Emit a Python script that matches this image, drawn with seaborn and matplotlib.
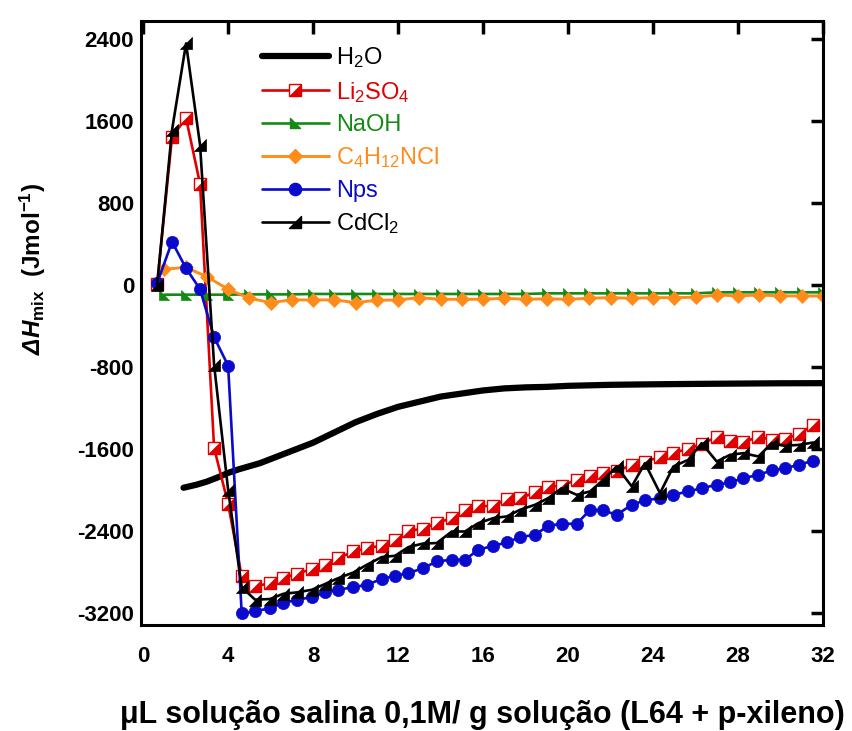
import numpy as np
import pandas as pd
import matplotlib
matplotlib.use("Agg")
import matplotlib.pyplot as plt
import seaborn as sns
from matplotlib.path import Path
from matplotlib.lines import Line2D

# ---------------- data ----------------
x_h2o = [1.9, 2.5, 3.0, 3.5, 4.0, 4.5, 5.0, 5.5, 6.0, 6.5, 7.0, 7.5, 8.0, 8.5, 9.0, 9.5, 10,
         11, 12, 13, 14, 15, 16, 17, 18, 19, 20, 22, 24, 26, 28, 30, 32]
h2o = [-1980, -1951, -1920, -1880, -1835, -1800, -1770, -1740, -1700, -1660, -1620, -1580,
       -1540, -1490, -1440, -1390, -1340, -1260, -1190, -1140, -1090, -1060, -1030, -1010,
       -1000, -995, -985, -975, -970, -966, -963, -960, -959]

x_inj = [0.66, 1.36, 2.02, 2.68, 3.34, 4.0, 4.64, 5.27, 5.98, 6.6, 7.23, 7.94, 8.56, 9.19,
         9.9, 10.53, 11.23, 11.86, 12.49, 13.19, 13.82, 14.53, 15.15, 15.78, 16.49, 17.12,
         17.74, 18.45, 19.07, 19.7, 20.41, 21.04, 21.66, 22.29, 23.0, 23.62, 24.33, 24.96,
         25.66, 26.29, 27.0, 27.62, 28.25, 28.96, 29.59, 30.21, 30.88, 31.55]
li2so4 = [10, 1444, 1630, 985, -1590, -2137, -2846, -2943, -2911, -2862, -2820, -2774,
          -2732, -2667, -2602, -2569, -2546, -2488, -2400, -2380, -2325, -2276, -2202,
          -2163, -2156, -2091, -2081, -2026, -1968, -1961, -1902, -1863, -1837, -1821,
          -1756, -1724, -1681, -1636, -1603, -1551, -1486, -1528, -1538, -1480, -1512,
          -1506, -1454, -1366]
cdcl2 = [0, 1512, 2358, 1366, -780, -2000, -2950, -3073, -3066, -3015, -3002, -2976,
         -2920, -2862, -2807, -2732, -2657, -2644, -2559, -2524, -2520, -2407, -2407,
         -2325, -2276, -2260, -2195, -2146, -2081, -1984, -2049, -2016, -1902, -1772,
         -1967, -1740, -2033, -1772, -1707, -1545, -1724, -1659, -1642, -1675, -1545,
         -1571, -1561, -1538]
nps = [16, 422, 163, -42, -510, -787, -3205, -3187, -3154, -3106, -3073, -3049, -3002,
       -2976, -2950, -2927, -2871, -2839, -2813, -2764, -2699, -2683, -2683, -2585,
       -2546, -2514, -2462, -2439, -2351, -2332, -2332, -2195, -2202, -2244, -2146,
       -2104, -2081, -2049, -2016, -1984, -1951, -1928, -1886, -1854, -1811, -1788,
       -1756, -1714]

x_int = list(range(1, 33))
naoh = [-95, -95, -95, -95, -92, -92, -92, -88, -88, -88, -88, -88, -88, -88, -88, -88,
        -88, -88, -82, -82, -82, -82, -82, -82, -82, -82, -72, -72, -72, -72, -72, -72]
c4h12ncl = [153, 172, 81, -42, -130, -172, -146, -146, -146, -172, -150, -146, -124, -140,
            -140, -140, -130, -140, -135, -140, -130, -124, -130, -124, -124, -120, -98,
            -107, -98, -107, -107, -107]

labels = ["H$_2$O", "Li$_2$SO$_4$", "NaOH", "C$_4$H$_{12}$NCl", "Nps", "CdCl$_2$"]
x_ticks = [0, 4, 8, 12, 16, 20, 24, 28, 32]
y_ticks = [2400, 1600, 800, 0, -800, -1600, -2400, -3200]

# ---------------- style ----------------
sns.set_style("white")
plt.rcParams["font.family"] = ["Liberation Sans", "DejaVu Sans"]
plt.rcParams["text.color"] = "black"
plt.rcParams["axes.labelcolor"] = "black"
plt.rcParams["xtick.color"] = "black"
plt.rcParams["ytick.color"] = "black"
plt.rcParams["mathtext.fontset"] = "custom"
plt.rcParams["mathtext.it"] = "Liberation Sans:bold:italic"
plt.rcParams["mathtext.rm"] = "Liberation Sans:bold:italic"
plt.rcParams["mathtext.bf"] = "Liberation Sans:bold"
plt.rcParams["mathtext.default"] = "regular"

RED = "#E00000"
GREEN = "#148A14"
ORANGE = "#FF8C1A"
BLUE = "#0A0ACC"
BLACK = "black"

tri_lr = Path([(-1, -1), (1, -1), (1, 1), (-1, -1)],
              [Path.MOVETO, Path.LINETO, Path.LINETO, Path.CLOSEPOLY])
tri_ll = Path([(-1, 1), (-1, -1), (1, -1), (-1, 1)],
              [Path.MOVETO, Path.LINETO, Path.LINETO, Path.CLOSEPOLY])

fig = plt.figure(figsize=(8.53, 7.31), dpi=100)
ax = fig.add_axes([0.1653, 0.145, 0.7995, 0.826])

common = dict(sort=False, estimator=None, ax=ax, legend=False)

sns.lineplot(x=x_h2o, y=h2o, color=BLACK, lw=4.5, **common)
sns.lineplot(x=x_inj, y=li2so4, color=RED, lw=1.9, marker="s", ms=8.8,
             mfc="white", mec=RED, mew=1.0, **common)
sns.lineplot(x=x_inj, y=li2so4, color=RED, lw=0, linestyle="none", marker=tri_lr,
             ms=8.8, mfc=RED, mec=RED, mew=0.5, **common)
sns.lineplot(x=x_int, y=naoh, color=GREEN, lw=1.9, marker=tri_ll, ms=7.5,
             mfc=GREEN, mec=GREEN, mew=0.5, **common)
sns.lineplot(x=x_int, y=c4h12ncl, color=ORANGE, lw=2.1, marker="D", ms=6.8,
             mfc=ORANGE, mec=ORANGE, mew=0.5, **common)
sns.lineplot(x=x_inj, y=nps, color=BLUE, lw=1.9, marker="o", ms=8.8,
             mfc=BLUE, mec=BLUE, mew=0.5, **common)
sns.lineplot(x=x_inj, y=cdcl2, color=BLACK, lw=1.9, marker=tri_lr, ms=8.8,
             mfc=BLACK, mec=BLACK, mew=0.5, **common)

ax.set_xlim(-0.1, 32.0)
ax.set_ylim(-3320, 2575)
ax.set_xticks(x_ticks)
ax.set_yticks(y_ticks)
ax.set_xticklabels([str(t) for t in x_ticks], fontsize=16, fontweight="bold")
ax.set_yticklabels([str(t) for t in y_ticks], fontsize=16, fontweight="bold")
ax.tick_params(direction="in", top=True, right=True, length=9, width=2.5,
               colors="black")
ax.tick_params(axis="x", pad=15)
ax.tick_params(axis="y", pad=5)
for s in ax.spines.values():
    s.set_color("black")
    s.set_linewidth(2.2)

ax.set_xlabel("\u03bcL solução salina 0,1M/ g solução (L64 + p-xileno)",
              fontsize=22, fontweight="bold", labelpad=24, color="black")
ax.set_ylabel(r"$\mathrm{\Delta H}_{mix}$  (Jmol$^{-1}$)", fontsize=17.5,
              fontweight="bold", color="black")
ax.yaxis.set_label_coords(-0.137, 0.59)

# legend
h_h2o = Line2D([], [], color=BLACK, lw=4.5)
h_li = (Line2D([], [], color=RED, lw=1.9, marker="s", ms=8.8, mfc="white", mec=RED, mew=1.0),
        Line2D([], [], color=RED, lw=0, marker=tri_lr, ms=8.8, mfc=RED, mec=RED, mew=0.5))
h_na = Line2D([], [], color=GREEN, lw=1.9, marker=tri_ll, ms=7.5, mfc=GREEN, mec=GREEN)
h_c4 = Line2D([], [], color=ORANGE, lw=2.1, marker="D", ms=6.8, mfc=ORANGE, mec=ORANGE)
h_np = Line2D([], [], color=BLUE, lw=1.9, marker="o", ms=8.8, mfc=BLUE, mec=BLUE)
h_cd = Line2D([], [], color=BLACK, lw=1.9, marker=tri_lr, ms=8.8, mfc=BLACK, mec=BLACK)
leg = ax.legend([h_h2o, h_li, h_na, h_c4, h_np, h_cd], labels,
                loc="upper left", bbox_to_anchor=(0.177, 0.960), frameon=False,
                fontsize=17, handlelength=2.85, handletextpad=0.3, labelspacing=0.4,
                borderpad=0, borderaxespad=0, numpoints=1)
for txt, c in zip(leg.get_texts(), [BLACK, RED, GREEN, ORANGE, BLUE, BLACK]):
    txt.set_color(c)

fig.savefig("out.png", dpi=100)
